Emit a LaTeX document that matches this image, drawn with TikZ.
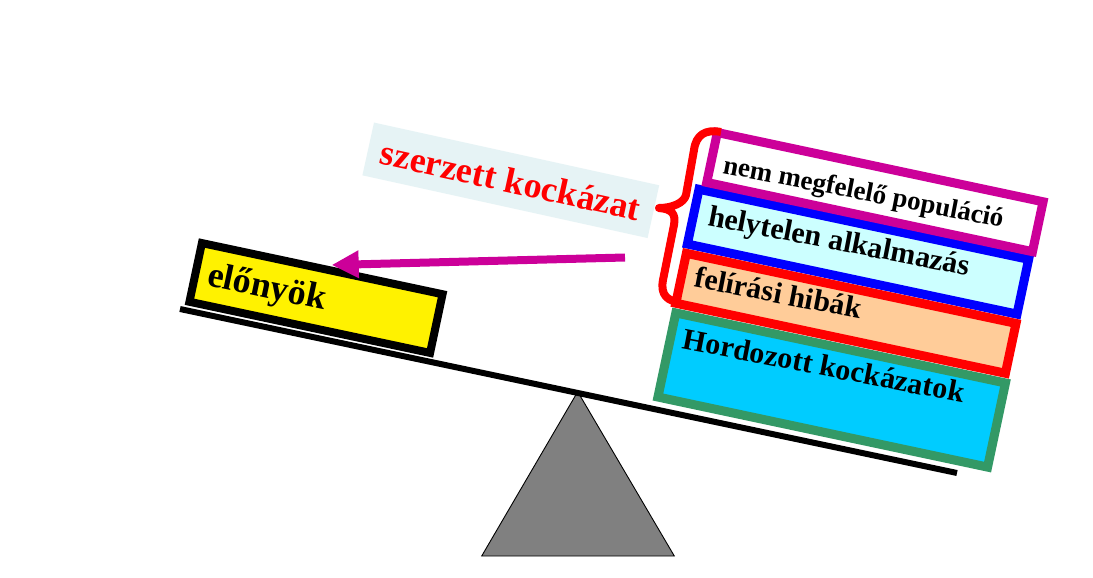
\documentclass[tikz,border=0pt]{standalone}
\usepackage{fontspec}
\setmainfont{Liberation Serif}
\usetikzlibrary{arrows.meta,calc}
\definecolor{cMag}{HTML}{CC0099}
\definecolor{cGreen}{HTML}{339966}
\definecolor{cCyan}{HTML}{00CCFF}
\definecolor{cLightCyan}{HTML}{CCFFFF}
\definecolor{cPeach}{HTML}{FFCC99}
\definecolor{cLabel}{HTML}{E6F3F5}
\definecolor{cGray}{HTML}{808080}
\begin{document}
\begin{tikzpicture}[x=1pt,y=-1pt,
  box/.style={draw, rotate=-12, line width=9pt, inner sep=0pt},
  boxtext/.style={rotate=#1, anchor=base west, inner sep=0pt, text=black,
    font=\bfseries\fontsize{30}{32}\selectfont},
  boxtext/.default=-11,
]
\useasboundingbox (0,0) rectangle (1093,578);
\fill[white] (0,0) rectangle (1093,578);

% acquired risk label
\node[fill=cLabel, rotate=-12.4, minimum width=292pt, minimum height=54pt,
      inner sep=0pt, text=red, font=\bfseries\fontsize{36}{38}\selectfont]
      (acq) at (510.8,180.3) {szerzett kockázat};

% fulcrum
\coordinate (apex) at (577.7,391.7);
\coordinate (baseR) at (674.3,556);
\coordinate (baseL) at (481.7,556);
\draw[fill=cGray, line width=0.9pt] (apex) -- (baseR) -- (baseL) -- cycle;

% beam
\coordinate (beamL) at (180,309);
\coordinate (beamR) at (957,473);
\draw[line width=6pt] (beamL) -- (beamR);

% benefits
\node[box, line width=8pt, draw=black, fill=yellow, minimum width=246pt,
      minimum height=60pt] (ben) at (316,298) {};
\node[boxtext=-12, font=\bfseries\fontsize{36}{38}\selectfont]
      (bent) at (206,285) {előnyök};

% risk stack
\node[box, draw=cGreen, fill=cCyan, minimum width=337pt, minimum height=86pt]
      (inh) at (831.7,390) {};
\node[box, draw=blue, fill=cLightCyan, minimum width=337pt, minimum height=56pt]
      (app) at (858,251.7) {};
\node[box, draw=red, fill=cPeach, minimum width=337pt, minimum height=51pt]
      (pre) at (845.9,313.3) {};
\node[box, draw=cMag, fill=white, minimum width=333pt, minimum height=51pt]
      (pop) at (874.9,192.1) {};

\node[boxtext, font=\bfseries\fontsize{27}{29}\selectfont] (popt) at (722,173) {nem megfelelő populáció};
\node[boxtext] (appt) at (707,225) {helytelen alkalmazás};
\node[boxtext] (pret) at (693.3,286.7) {felírási hibák};
\node[boxtext] (inht) at (681.7,348.3) {Hordozott kockázatok};

% brace
\coordinate (brT) at (721,132);
\coordinate (brM) at (659,208);
\coordinate (brB) at (681,302);
\draw[red, line width=8pt, line join=round]
  (brT) .. controls (705,129) and (696,135) .. (694,150) -- (686,195)
  .. controls (684,203) and (672,208) .. (brM)
  .. controls (672,209) and (676,214) .. (674,225) -- (663,280)
  .. controls (660,295) and (668,302) .. (brB);

% arrow
\coordinate (arS) at (625,257.5);
\coordinate (arE) at (331.7,265);
\draw[cMag, line width=8pt, -{Triangle[length=27pt,width=26pt]}] (arS) -- (arE);
\end{tikzpicture}
\end{document}
